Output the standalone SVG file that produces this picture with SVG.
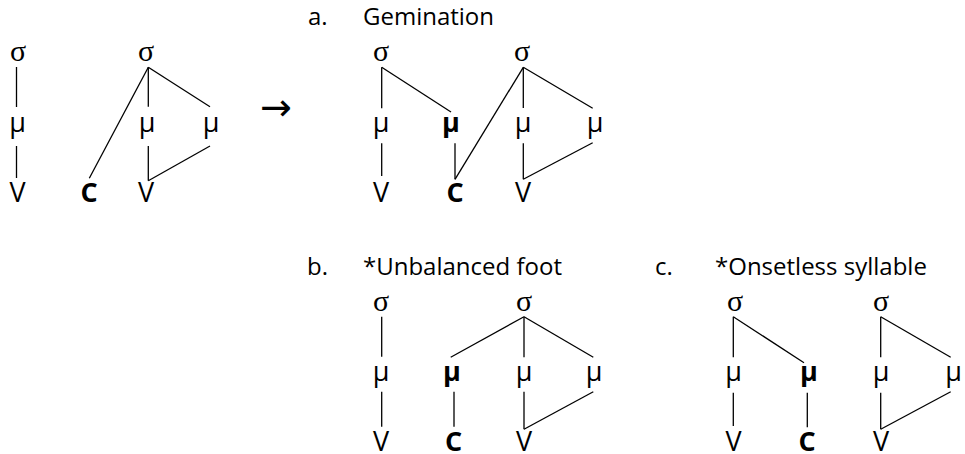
<svg xmlns="http://www.w3.org/2000/svg" width="965" height="454" viewBox="0 0 965 454">
<style>
.s{font-family:"Liberation Serif","Times New Roman",serif;font-size:30px;text-anchor:middle;fill:#000}
.m{font-family:"Open Sans","Liberation Sans",sans-serif;font-size:27px;text-anchor:middle;fill:#000}
.b{font-weight:700}
.h{font-family:"Open Sans","Liberation Sans",sans-serif;font-size:24px;fill:#000}
.ar{font-family:"DejaVu Sans",sans-serif;font-size:38px;fill:#000}
#connectors line{stroke:#000;stroke-width:1.3;fill:none}
</style>
<rect width="965" height="454" fill="#fff"/>
<g id="headings">
<text class="h" x="308" y="25">a.</text>
<text class="h" x="363" y="25">Gemination</text>
<text class="h" x="307" y="275">b.</text>
<text class="h" x="363" y="275">*Unbalanced foot</text>
<text class="h" x="655" y="275">c.</text>
<text class="h" x="715" y="275">*Onsetless syllable</text>
</g>
<g id="arrow"><text class="ar" x="260" y="120">→</text></g>
<g id="connectors">
<line x1="16.5" y1="67" x2="16.5" y2="107"/>
<line x1="16.5" y1="146" x2="16.5" y2="178"/>
<line x1="148.3" y1="67.3" x2="89.3" y2="178.3"/>
<line x1="148.3" y1="67.3" x2="148.3" y2="106.7"/>
<line x1="148.3" y1="67.3" x2="210" y2="106.7"/>
<line x1="148.3" y1="146" x2="148.3" y2="180.7"/>
<line x1="148.3" y1="180.7" x2="210" y2="146"/>
<line x1="381.7" y1="67.3" x2="381.7" y2="108.3"/>
<line x1="381.7" y1="67.3" x2="451" y2="112"/>
<line x1="381.7" y1="143.3" x2="381.7" y2="176"/>
<line x1="455" y1="143.3" x2="455" y2="179.3"/>
<line x1="455" y1="179.3" x2="523.3" y2="67.3"/>
<line x1="523.3" y1="67.3" x2="523.3" y2="108"/>
<line x1="523.3" y1="67.3" x2="592.7" y2="108.3"/>
<line x1="523.3" y1="143.3" x2="523.3" y2="179.3"/>
<line x1="523.3" y1="179.3" x2="592.7" y2="142.7"/>
<line x1="381.7" y1="316.7" x2="381.7" y2="356.7"/>
<line x1="381.7" y1="391.7" x2="381.7" y2="426.7"/>
<line x1="524" y1="316.7" x2="450.7" y2="357.3"/>
<line x1="524" y1="316.7" x2="524" y2="357.3"/>
<line x1="524" y1="316.7" x2="593.3" y2="357.3"/>
<line x1="454" y1="391.7" x2="454" y2="426.7"/>
<line x1="524" y1="391.7" x2="524" y2="429.3"/>
<line x1="524" y1="429.3" x2="593.3" y2="391.7"/>
<line x1="733.3" y1="316.7" x2="733.3" y2="357.3"/>
<line x1="733.3" y1="316.7" x2="804" y2="362.7"/>
<line x1="733.3" y1="392.7" x2="733.3" y2="426"/>
<line x1="807.3" y1="392.7" x2="807.3" y2="427.3"/>
<line x1="880.7" y1="316.7" x2="880.7" y2="357.3"/>
<line x1="880.7" y1="316.7" x2="950.7" y2="357.3"/>
<line x1="880.7" y1="392.7" x2="880.7" y2="429.3"/>
<line x1="880.7" y1="429.3" x2="950.7" y2="391.7"/>
</g>
<g id="n-sigma1"><text class="s" x="18" y="61">σ</text></g>
<g id="n-mu1"><text class="m" x="17.5" y="131.5">μ</text></g>
<g id="n-v1"><text class="m" x="17.5" y="202">V</text></g>
<g id="n-sigma2"><text class="s" x="146" y="61">σ</text></g>
<g id="n-c2"><text class="m b" x="89" y="202">C</text></g>
<g id="n-mu2"><text class="m" x="147" y="131.5">μ</text></g>
<g id="n-mu3"><text class="m" x="211" y="131.5">μ</text></g>
<g id="n-v2"><text class="m" x="146" y="202">V</text></g>
<g id="a-sigma1"><text class="s" x="381" y="61">σ</text></g>
<g id="a-mu1"><text class="m" x="381" y="131.5">μ</text></g>
<g id="a-v1"><text class="m" x="381" y="202">V</text></g>
<g id="a-mu2"><text class="m b" x="451" y="131.5">μ</text></g>
<g id="a-c"><text class="m b" x="455" y="202">C</text></g>
<g id="a-sigma2"><text class="s" x="522" y="61">σ</text></g>
<g id="a-mu3"><text class="m" x="523" y="131.5">μ</text></g>
<g id="a-mu4"><text class="m" x="595" y="131.5">μ</text></g>
<g id="a-v2"><text class="m" x="523" y="202">V</text></g>
<g id="b-sigma1"><text class="s" x="381" y="310.5">σ</text></g>
<g id="b-mu1"><text class="m" x="381" y="381">μ</text></g>
<g id="b-v1"><text class="m" x="381" y="451">V</text></g>
<g id="b-sigma2"><text class="s" x="524" y="310.5">σ</text></g>
<g id="b-mu2"><text class="m b" x="452" y="381">μ</text></g>
<g id="b-mu3"><text class="m" x="524" y="381">μ</text></g>
<g id="b-mu4"><text class="m" x="594" y="381">μ</text></g>
<g id="b-c"><text class="m b" x="453.5" y="451">C</text></g>
<g id="b-v2"><text class="m" x="524" y="451">V</text></g>
<g id="c-sigma1"><text class="s" x="735" y="310.5">σ</text></g>
<g id="c-mu1"><text class="m" x="733.5" y="381">μ</text></g>
<g id="c-v1"><text class="m" x="733.5" y="451">V</text></g>
<g id="c-mu2"><text class="m b" x="809" y="381">μ</text></g>
<g id="c-c"><text class="m b" x="807" y="451">C</text></g>
<g id="c-sigma2"><text class="s" x="881" y="310.5">σ</text></g>
<g id="c-mu3"><text class="m" x="881" y="381">μ</text></g>
<g id="c-mu4"><text class="m" x="953.5" y="381">μ</text></g>
<g id="c-v2"><text class="m" x="881" y="451">V</text></g>
</svg>
